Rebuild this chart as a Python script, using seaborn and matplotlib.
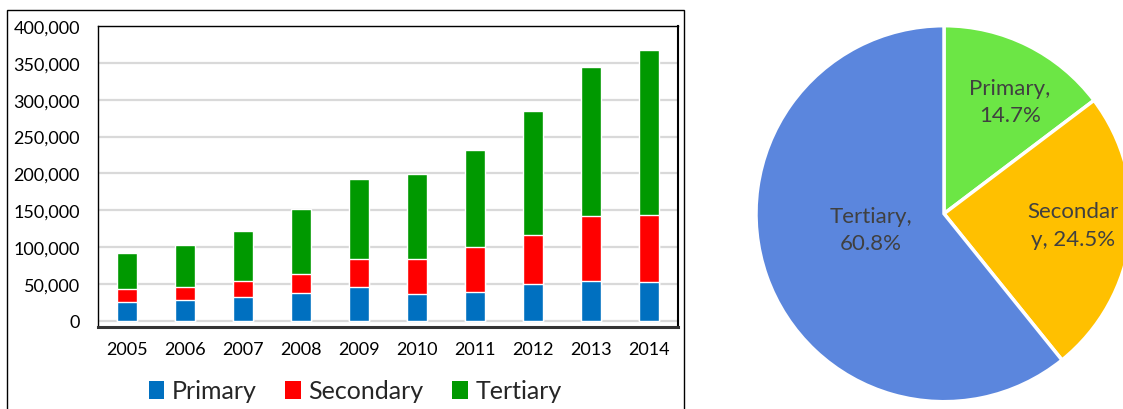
import matplotlib
matplotlib.use("Agg")
import matplotlib.pyplot as plt
import seaborn as sns
import pandas as pd
import numpy as np
from matplotlib.ticker import FuncFormatter, MultipleLocator
from matplotlib.patches import Rectangle, Patch

# ---- data ----
years = ["2005", "2006", "2007", "2008", "2009", "2010", "2011", "2012", "2013", "2014"]
primary = [26300, 28600, 32300, 38100, 46700, 36300, 39500, 49900, 54000, 53100]
secondary = [17700, 18100, 21700, 25500, 37300, 47700, 60400, 66800, 88100, 90400]
tertiary = [48600, 55900, 68600, 88900, 108000, 115300, 132500, 168400, 202000, 224200]
series_names = ["Primary", "Secondary", "Tertiary"]

share_names = ["Primary", "Secondary", "Tertiary"]
share_values = [14.7, 24.5, 60.8]
share_texts = ["Primary,\n14.7%", "Secondar\ny, 24.5%", "Tertiary,\n60.8%"]

# ---- style ----
bar_colors = ["#0070C0", "#FF0000", "#009900"]
pie_colors = ["#6CE645", "#FFC000", "#5B86DD"]

sns.set_theme(style="white")
plt.rcParams["font.family"] = ["Lato", "DejaVu Sans"]

W, H = 1123, 410
fig = plt.figure(figsize=(W / 100, H / 100), dpi=100)

# ---- stacked bar chart ----
ax = fig.add_axes([98 / W, 1 - 328 / H, 580 / W, 301 / H])
df = pd.DataFrame({"year": years, "p": primary, "s": secondary, "t": tertiary})
df["ps"] = df["p"] + df["s"]
df["pst"] = df["ps"] + df["t"]

sns.barplot(data=df, x="year", y="pst", color=bar_colors[2], saturation=1, width=0.33, ax=ax, zorder=3)
sns.barplot(data=df, x="year", y="ps", color=bar_colors[1], saturation=1, width=0.33, ax=ax, zorder=3)
sns.barplot(data=df, x="year", y="p", color=bar_colors[0], saturation=1, width=0.33, ax=ax, zorder=3)

ax.set_xlim(-0.5, len(years) - 0.5)
ax.set_ylim(-8136, 400000)
ax.yaxis.set_major_locator(MultipleLocator(50000))
ax.yaxis.set_major_formatter(FuncFormatter(lambda v, p: f"{int(v):,}"))
ax.yaxis.grid(True, color="#D9D9D9", lw=1.6)
ax.set_axisbelow(True)
ax.set_xlabel("")
ax.set_ylabel("")
ax.tick_params(axis="both", length=0, labelsize=13, colors="black")
ax.tick_params(axis="x", pad=10)
ax.tick_params(axis="y", pad=13)
for side in ["top", "left"]:
    ax.spines[side].set_color("black")
    ax.spines[side].set_linewidth(1)
ax.spines["right"].set_color("black")
ax.spines["right"].set_linewidth(1.5)
ax.spines["bottom"].set_color("#333333")
ax.spines["bottom"].set_linewidth(2.2)

handles = [Patch(facecolor=c, edgecolor="none") for c in bar_colors]
fig.legend(handles, series_names, loc="center", bbox_to_anchor=(355 / W, 1 - 392 / H),
           ncol=3, frameon=False, fontsize=18, handlelength=0.62, handleheight=0.7,
           handletextpad=0.3, columnspacing=1.15, borderpad=0, borderaxespad=0)

fig.add_artist(Rectangle((7 / W, -0.05), (684 - 7) / W, (1 - 11 / H) + 0.05,
                         transform=fig.transFigure, fill=False, ec="black", lw=1))

# ---- pie chart ----
pax = fig.add_axes([756 / W, 1 - 402.7 / H, 376 / W, 376 / H])
wedges, _ = pax.pie(share_values, colors=pie_colors, startangle=90, counterclock=False,
                    wedgeprops=dict(edgecolor="white", linewidth=2.5))
pax.set_xlim(-1, 1)
pax.set_ylim(-1, 1)
pax.set_aspect("equal")
pax.axis("off")
dists = [0.69, 0.69, 0.40]
nudges = [-4, 2, -7]
for w, txt, d, n in zip(wedges, share_texts, dists, nudges):
    ang = np.deg2rad((w.theta1 + w.theta2) / 2 + n)
    pax.text(d * np.cos(ang), d * np.sin(ang), txt, ha="center", va="center",
             fontsize=16, color="#404040", linespacing=1.45)

fig.savefig("out.png", dpi=100)
